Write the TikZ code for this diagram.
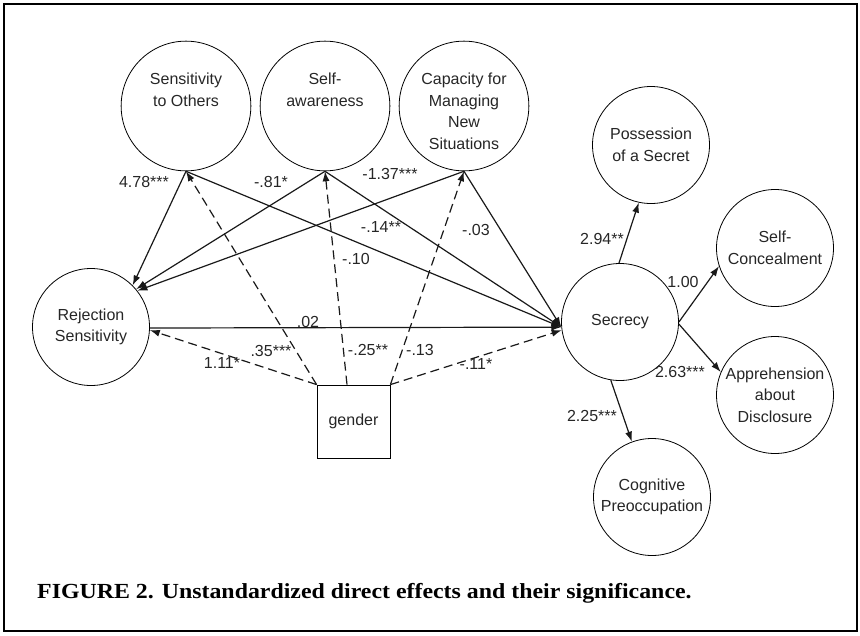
\documentclass[tikz,border=0pt]{standalone}
\usepackage{fontspec}
\setmainfont{Liberation Sans}
\newfontfamily\capfont{Liberation Serif}
\usetikzlibrary{arrows.meta}

\newcommand{\toptext}[1]{\parbox[c][66pt][t]{112pt}{\centering #1}}

\begin{document}
\begin{tikzpicture}[x=1pt,y=-1pt,
    font=\fontsize{16}{21.5}\selectfont,
    latent/.style={circle,draw,line width=0.8pt,minimum size=117pt,inner sep=0pt,align=center,text=black!85},
    observed/.style={rectangle,draw,line width=0.8pt,minimum size=73pt,inner sep=0pt,text=black!85},
    coef/.style={inner sep=1pt,text=black!85},
    effect/.style={line width=1.2pt,black!90,-{Latex[length=10pt,width=7pt]}},
    gendereffect/.style={effect,dash pattern=on 9pt off 5pt}]
  \useasboundingbox (0,0) rectangle (860,635);
  \draw[line width=2.5pt] (4,4) rectangle (857,631);

  % factors, mediator, outcome
  \draw
    (186,106) node[latent] (sens){\toptext{Sensitivity\\to Others}}
    (325,106) node[latent] (self){\toptext{Self-\\awareness}}
    (464,106) node[latent] (cap){\toptext{Capacity for\\Managing\\New\\Situations}}
    (91,327) node[latent] (rej){Rejection\\Sensitivity}
    (620,322) node[latent] (sec){Secrecy}
    (651,145) node[latent] (poss){Possession\\of a Secret}
    (775,248) node[latent] (conc){Self-\\Concealment}
    (775,395) node[latent] (appr){Apprehension\\about\\Disclosure}
    (652,497) node[latent] (cogn){Cognitive\\Preoccupation}
    (353.5,421.5) node[observed] (gender){gender};

  % coefficients
  \draw
    (144,182) node[coef] (c1){4.78***}
    (271,182) node[coef] (c2){-.81*}
    (390,174) node[coef] (c3){-1.37***}
    (381,227) node[coef] (c4){-.14**}
    (476,230) node[coef] (c5){-.03}
    (356,259) node[coef] (c6){-.10}
    (308,322) node[coef] (c7){.02}
    (271,351) node[coef] (c8){.35***}
    (222,363) node[coef] (c9){1.11*}
    (368,350) node[coef] (c10){-.25**}
    (420,350) node[coef] (c11){-.13}
    (476,364) node[coef] (c12){-.11*}
    (602,239) node[coef] (c13){2.94**}
    (683,282) node[coef] (c14){1.00}
    (680,372) node[coef] (c15){2.63***}
    (592,416) node[coef] (c16){2.25***};

  \begin{scope}[effect]
    \draw (sens.south) to (rej.45);
    \draw (self.south) to (rej.40);
    \draw (cap.south) to (rej.38);
    \draw (sens.south) to (sec.185);
    \draw (self.south) to (sec.185);
    \draw (cap.south) to (sec.185);
    \draw (rej.-1) to (sec.185);
    \draw (sec.91) to (poss.-102);
    \draw (sec.0) to (conc.-162);
    \draw (sec.-2) to (appr.157);
    \draw (sec.-99) to (cogn.110);
  \end{scope}
  \begin{scope}[gendereffect]
    \draw (gender.north west) to (sens.south);
    \draw (gender.north west) to (rej.-3);
    \draw (gender.100) to (self.south);
    \draw (gender.north east) to (cap.south);
    \draw (gender.north east) to (sec.188);
  \end{scope}

  \draw (37,598) node[anchor=base west,inner sep=0pt] (caption)
    {\scalebox{1.11}[1]{\capfont\bfseries\fontsize{21.5}{24}\selectfont FIGURE 2. Unstandardized direct effects and their significance.}};
\end{tikzpicture}
\end{document}
